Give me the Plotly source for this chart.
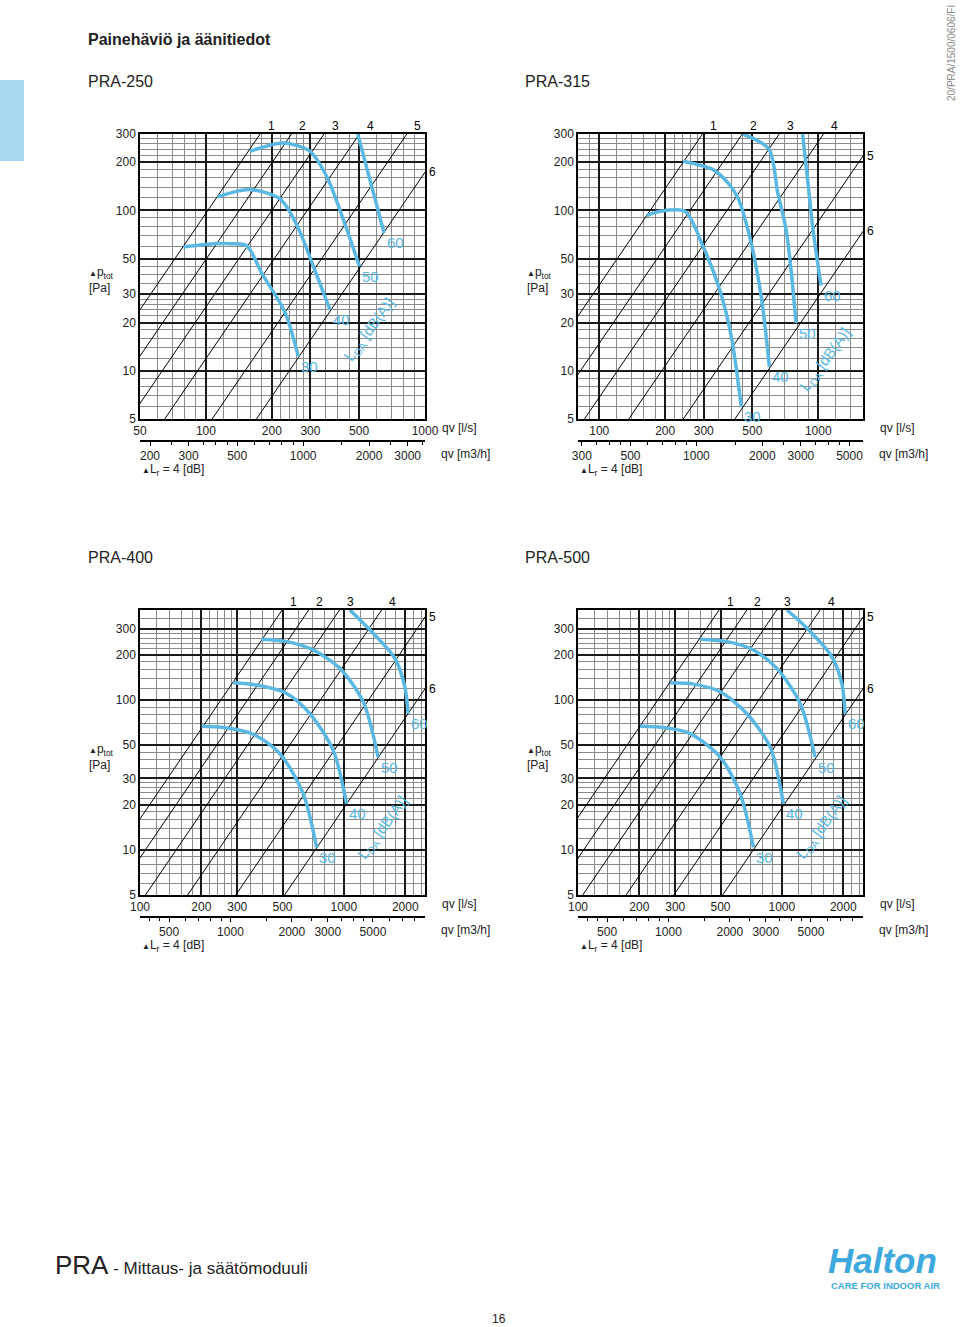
import numpy as np
import plotly.graph_objects as go

W, H = 960, 1327
BLUE = "#5ab8e2"
LOGO_BLUE = "#3ea9df"
FONT = "Liberation Sans, Arial, sans-serif"

# damper position lines 1..6: flow [l/s] where each line meets the lowest
# and the highest pressure of its chart
pos_names = ["1", "2", "3", "4", "5", "6"]
pra250_pos_lo = [22.8, 31.8, 44.7, 64.8, 106.7, 170]      # at 5 Pa
pra250_pos_hi = [176.7, 246, 346, 502, 826, 1316]         # at 300 Pa
pra315_pos_lo = [38.2, 58.1, 85.6, 136.4, 242, 416]       # at 5 Pa
pra315_pos_hi = [296, 450, 663, 1057, 1874, 3222]         # at 300 Pa
pra400_pos_lo = [55.7, 75.1, 106.4, 171.3, 295, 512]      # at 5 Pa
pra400_pos_hi = [498, 672, 952, 1532, 2640, 4580]         # at 400 Pa
pra500_pos_lo = [55.0, 75.4, 105.5, 172.2, 295, 512]      # at 5 Pa
pra500_pos_hi = [492, 674, 944, 1540, 2640, 4580]         # at 400 Pa

# sound level curves LDA 30 / 40 / 50 / 60 dB(A): flow [l/s], pressure [Pa]
level_names = ["30", "40", "50", "60"]
pra250_q = [[78.8, 108, 131, 153.5, 179.7, 229.6, 264],
            [112.7, 159, 217.8, 259.6, 309.3, 368.6],
            [159, 225.6, 298.7, 355.9, 424, 501.7],
            [493, 571, 650.5]]
pra250_p = [[59.2, 62, 62, 60.3, 40.7, 23.1, 12.3],
            [121.5, 134.9, 118, 81.5, 44.8, 24],
            [234, 264, 234, 163, 87.7, 44.8],
            [300, 141.6, 72.4]]
pra315_q = [[164.7, 189.4, 246, 297.9, 354.8, 401, 445],
            [241.6, 330.7, 387, 429.9, 485.8, 549, 598],
            [453, 594, 653, 713, 751, 791.6],
            [848, 894, 942, 1029]]
pra315_p = [[92.9, 98.8, 98.8, 59.7, 32, 16.3, 5.97],
            [202.8, 179.9, 148.6, 119.7, 68.9, 29, 10.6],
            [300, 242.4, 128.6, 76, 42.7, 19.8],
            [300, 155.8, 79.6, 34]]
pra400_q = [[200.6, 256, 359.4, 485.5, 632, 735],
            [286.8, 373, 523.7, 681, 886.6, 1031],
            [394.8, 523.7, 707.4, 955, 1244, 1472],
            [1070, 1341, 1778, 1991, 2066]]
pra400_p = [[66.9, 65.6, 59.2, 43.9, 23.7, 10.4],
            [130.6, 126.1, 110.9, 81.4, 46.2, 20.3],
            [255.5, 246, 216.5, 163.1, 97.5, 41.7],
            [400, 295, 190.5, 122.8, 81.4]]
pra500_q = [[202, 262.8, 355, 498, 624.7, 725.7],
            [283.4, 368.8, 498, 673, 876, 1018],
            [397.6, 537.6, 726, 945, 1230, 1456],
            [1058, 1326, 1758, 1968, 2043]]
pra500_p = [[66.9, 65.6, 59.8, 41.7, 23.7, 10.4],
            [130.6, 128, 113.7, 81.4, 48.6, 20.3],
            [255.5, 246, 216.5, 163, 95, 41.7],
            [400, 303, 195, 129.5, 81.4]]

# where the rotated "LDA [dB(A)]" caption sits (l/s, Pa)
lda_label_pos = [(561, 18), (1084, 11.7), (1558, 14.1), (1571, 14.1)]

# axes
x_ranges = [(50, 1000), (80, 1600), (100, 2500), (100, 2500)]
y_ranges = [(5, 300), (5, 300), (5, 400), (5, 400)]
x_ticks = [[50, 100, 200, 300, 500, 1000],
           [100, 200, 300, 500, 1000],
           [100, 200, 300, 500, 1000, 2000],
           [100, 200, 300, 500, 1000, 2000]]
y_ticks = [5, 10, 20, 30, 50, 100, 200, 300]
m3h_ticks = [[200, 300, 500, 1000, 2000, 3000],
             [300, 500, 1000, 2000, 3000, 5000],
             [500, 1000, 2000, 3000, 5000],
             [500, 1000, 2000, 3000, 5000]]
titles = ["PRA-250", "PRA-315", "PRA-400", "PRA-500"]

GRID_MULTS = [1.2, 1.4, 1.6, 1.8, 2.2, 2.4, 2.6, 2.8, 3.5, 4, 4.5, 6, 7, 8, 9]
M3H_MULTS = [1.5, 2.5, 3.5, 4, 4.5, 6, 7, 8, 9]

# page layout (pixels): plot box left, top, right, bottom
boxes = [(140, 134, 425, 419), (578, 134, 863, 419),
         (140, 610, 425, 895), (578, 610, 863, 895)]


def minor_vals(lo, hi, mults):
    out = []
    for e in range(0, 5):
        for m in mults:
            v = m * 10 ** e
            if lo < v < hi:
                out.append(v)
    return out


def px(x):
    return x / W


def py(y):
    return 1 - y / H


charts = [
    dict(pos_lo=pra250_pos_lo, pos_hi=pra250_pos_hi, q=pra250_q, p=pra250_p),
    dict(pos_lo=pra315_pos_lo, pos_hi=pra315_pos_hi, q=pra315_q, p=pra315_p),
    dict(pos_lo=pra400_pos_lo, pos_hi=pra400_pos_hi, q=pra400_q, p=pra400_p),
    dict(pos_lo=pra500_pos_lo, pos_hi=pra500_pos_hi, q=pra500_q, p=pra500_p),
]

fig = go.Figure()
axes = {}
annotations = []
tick_font = dict(size=12, color="#222", family=FONT)


def note(x, y, text, size=12, **kw):
    annotations.append(dict(x=px(x), y=py(y), xref="paper", yref="paper",
                            text=text, showarrow=False, xanchor="left",
                            yanchor="middle", font=dict(size=size, color="#222"),
                            **kw))


for i, c in enumerate(charts):
    k = i + 1
    xa = "x" if k == 1 else f"x{k}"
    ya = "y" if k == 1 else f"y{k}"
    xs = f"x{k + 4}"
    left, top, right, bottom = boxes[i]
    x0, x1 = x_ranges[i]
    y0, y1 = y_ranges[i]

    # damper position lines
    for lo, hi in zip(c["pos_lo"], c["pos_hi"]):
        fig.add_trace(go.Scatter(x=[lo, hi], y=[y0, y1], mode="lines",
                                 line=dict(color="black", width=1),
                                 xaxis=xa, yaxis=ya, hoverinfo="skip",
                                 showlegend=False))
    for name, lo, hi in zip(pos_names, c["pos_lo"], c["pos_hi"]):
        if hi <= x1:
            ax_, ay_, sx, sy = hi, y1, 11, 8
        else:
            ax_, ay_, sx, sy = x1, y1 * (x1 / hi) ** 2, 7, 0
        annotations.append(dict(x=np.log10(ax_), y=np.log10(ay_), xref=xa, yref=ya,
                                text=name, showarrow=False, xshift=sx, yshift=sy,
                                font=dict(size=12, color="black")))

    # sound level curves
    for name, q, p in zip(level_names, c["q"], c["p"]):
        fig.add_trace(go.Scatter(x=q, y=p, mode="lines",
                                 line=dict(color=BLUE, width=3.5, shape="spline",
                                           smoothing=0.8),
                                 xaxis=xa, yaxis=ya, hoverinfo="skip",
                                 showlegend=False))
        annotations.append(dict(x=np.log10(q[-1]), y=np.log10(p[-1]), xref=xa, yref=ya,
                                text=name, showarrow=False, xshift=11, yshift=-10,
                                font=dict(size=15, color=BLUE)))
    lq, lp = lda_label_pos[i]
    annotations.append(dict(x=np.log10(lq), y=np.log10(lp), xref=xa, yref=ya,
                            text="L<sub>DA</sub> [dB(A)]", showarrow=False,
                            textangle=-54, font=dict(size=15, color=BLUE)))

    # invisible trace carrying the m3/h axis
    fig.add_trace(go.Scatter(x=m3h_ticks[i], y=[y0] * len(m3h_ticks[i]),
                             mode="markers", marker=dict(opacity=0),
                             xaxis=xs, yaxis=ya, hoverinfo="skip", showlegend=False))

    common = dict(type="log", showline=True, linecolor="black", linewidth=1.5,
                  mirror=True, tickfont=tick_font, zeroline=False, ticks="",
                  showgrid=True, gridcolor="#1a1a1a", gridwidth=1.6,
                  tickmode="array", fixedrange=True, automargin=False)
    axes["xaxis" if k == 1 else f"xaxis{k}"] = dict(
        common, domain=[px(left), px(right)], anchor=ya,
        range=[np.log10(x0), np.log10(x1)],
        tickvals=x_ticks[i], ticktext=[str(v) for v in x_ticks[i]],
        minor=dict(tickmode="array", tickvals=minor_vals(x0, x1, GRID_MULTS),
                   showgrid=True, gridcolor="#8a8a8a", gridwidth=0.8, ticks=""))
    axes["yaxis" if k == 1 else f"yaxis{k}"] = dict(
        common, domain=[py(bottom), py(top)], anchor=xa,
        range=[np.log10(y0), np.log10(y1)],
        tickvals=y_ticks, ticktext=[str(v) for v in y_ticks],
        minor=dict(tickmode="array", tickvals=minor_vals(y0, y1, GRID_MULTS),
                   showgrid=True, gridcolor="#8a8a8a", gridwidth=0.8, ticks=""))
    axes[f"xaxis{k + 4}"] = dict(
        overlaying=xa, anchor="free", position=py(bottom + 22), side="bottom",
        domain=[px(left), px(right)], type="log",
        range=[np.log10(x0 * 3.6), np.log10(x1 * 3.6)],
        tickmode="array", tickvals=m3h_ticks[i],
        ticktext=[str(v) for v in m3h_ticks[i]],
        ticks="outside", ticklen=4, tickwidth=1.2, tickcolor="black",
        minor=dict(tickmode="array", tickvals=minor_vals(x0 * 3.6, x1 * 3.6, M3H_MULTS),
                   ticks="outside", ticklen=3, tickwidth=1, tickcolor="black",
                   showgrid=False),
        showline=True, linecolor="black", linewidth=1.5, showgrid=False,
        zeroline=False, tickfont=tick_font, fixedrange=True, automargin=False)

    # text around the chart
    title_x = 86 if left < 300 else 523
    note(title_x, top - 52 if k <= 2 else top - 53, titles[i], size=16)
    note(left - 53, bottom - 139 if k <= 2 else bottom - 138,
         "<span style='font-size:8px'>▲</span>p<sub>tot</sub><br>[Pa]",
         align="left")
    note(right + 15, bottom + 9, "qv [l/s]")
    note(right + 14, bottom + 35, "qv [m3/h]")
    note(left, bottom + 51,
         "<span style='font-size:8px'>▲</span>L<sub>r</sub> = 4 [dB]")

# page furniture
note(86, 40, "<b>Painehäviö ja äänitiedot</b>", size=16)
note(53, 1265, "<span style='font-size:26px'>PRA</span> - Mittaus- ja säätömoduuli",
     size=17)
annotations.append(dict(x=px(826), y=py(1260), xref="paper", yref="paper",
                        text="<b><i>Halton</i></b>", showarrow=False,
                        xanchor="left", yanchor="middle",
                        font=dict(size=35, color=LOGO_BLUE)))
annotations.append(dict(x=px(829), y=py(1285), xref="paper", yref="paper",
                        text="<b>CARE FOR INDOOR AIR</b>", showarrow=False,
                        xanchor="left", yanchor="middle",
                        font=dict(size=9.5, color=LOGO_BLUE)))
annotations.append(dict(x=px(499), y=py(1319), xref="paper", yref="paper",
                        text="16", showarrow=False, xanchor="center",
                        yanchor="middle", font=dict(size=12, color="#222")))
annotations.append(dict(x=px(952), y=py(53), xref="paper", yref="paper",
                        text="20/PRA/1500/0606/FI", showarrow=False,
                        xanchor="center", yanchor="middle", textangle=-90,
                        font=dict(size=10, color="#888")))

fig.update_layout(
    template="none",
    width=W, height=H,
    autosize=False,
    margin=dict(l=0, r=0, t=0, b=0, pad=0, autoexpand=False),
    paper_bgcolor="white", plot_bgcolor="white",
    font=dict(family=FONT, color="#222"),
    showlegend=False,
    annotations=annotations,
    shapes=[dict(type="rect", xref="paper", yref="paper",
                 x0=0, x1=px(24), y0=py(161), y1=py(80),
                 fillcolor="#a9d8f1", line=dict(width=0))],
    **axes,
)

# the page's default body margin would push the figure 8px off the window
fig.write_html("out.html", config={"displayModeBar": False},
               post_script="document.body.style.margin='0';")
